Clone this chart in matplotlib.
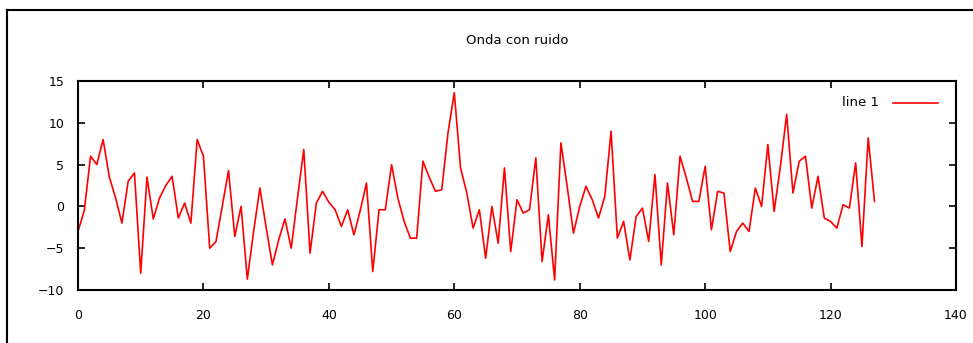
import matplotlib.pyplot as plt
from matplotlib.lines import Line2D
import numpy as np

# Values (one sample per x = 0..127)
values = [
    -3, -0.5, 6, 5, 8, 3.5, 1, -2, 3, 4,
    -8, 3.5, -1.5, 1, 2.5, 3.6, -1.4, 0.4, -2, 8,
    6, -5, -4.2, 0, 4.3, -3.6, 0, -8.7, -3, 2.2,
    -2.5, -7, -4, -1.5, -5, 1, 6.8, -5.6, 0.4, 1.8,
    0.5, -0.4, -2.4, -0.4, -3.4, -0.5, 2.8, -7.8, -0.4, -0.4,
    5, 1, -1.8, -3.8, -3.8, 5.4, 3.5, 1.8, 2, 8.8,
    13.6, 4.6, 1.6, -2.6, -0.4, -6.2, 0, -4.4, 4.6, -5.4,
    0.8, -0.8, -0.4, 5.8, -6.6, -1, -8.8, 7.6, 2.4, -3.2,
    0, 2.4, 0.8, -1.4, 1.2, 9, -3.8, -1.8, -6.4, -1.2,
    -0.2, -4.2, 3.8, -7, 2.8, -3.4, 6, 3.4, 0.6, 0.6,
    4.8, -2.8, 1.8, 1.6, -5.4, -3, -2, -3, 2.2, 0,
    7.4, -0.6, 4.8, 11, 1.6, 5.4, 6, -0.2, 3.6, -1.4,
    -1.8, -2.6, 0.2, -0.2, 5.2, -4.8, 8.2, 0.6,
]
x = np.arange(len(values))

x_ticks = [0, 20, 40, 60, 80, 100, 120, 140]
y_ticks = [-10, -5, 0, 5, 10, 15]

W, H = 973, 343
fig = plt.figure(figsize=(W / 100, H / 100), dpi=100)
ax = fig.add_axes([78 / W, 1 - 290 / H, (956 - 78) / W, (290 - 81) / H])

ax.plot(x, values, color='#ff0000', linewidth=1.2)

ax.set_xlim(0, 140)
ax.set_ylim(-10, 15)
ax.set_xticks(x_ticks)
ax.set_yticks(y_ticks)
ax.tick_params(direction='in', length=5, width=1.2, top=True, right=True,
               labelsize=9, colors='black')
ax.tick_params(axis='x', pad=14)
ax.tick_params(axis='y', pad=10)
for s in ax.spines.values():
    s.set_linewidth(1.5)

# Title
fig.text((78 + 956) / 2 / W, 1 - 40 / H, "Onda con ruido", ha='center', va='center', fontsize=9.5)

# Legend as in gnuplot: text then sample line
ax.text(0.912, 0.895, "line 1", transform=ax.transAxes, ha='right', va='center', fontsize=9.5)
ax.add_line(Line2D([0.928, 0.979], [0.895, 0.895], transform=ax.transAxes,
                   color='#ff0000', linewidth=1.2))

# outer frame of the screenshot
fig.add_artist(Line2D([7 / W, 1], [1 - 10 / H, 1 - 10 / H], color='black', linewidth=1.5))
fig.add_artist(Line2D([7 / W, 7 / W], [0, 1 - 10 / H], color='black', linewidth=1.5))

fig.savefig('out.png', dpi=100)
